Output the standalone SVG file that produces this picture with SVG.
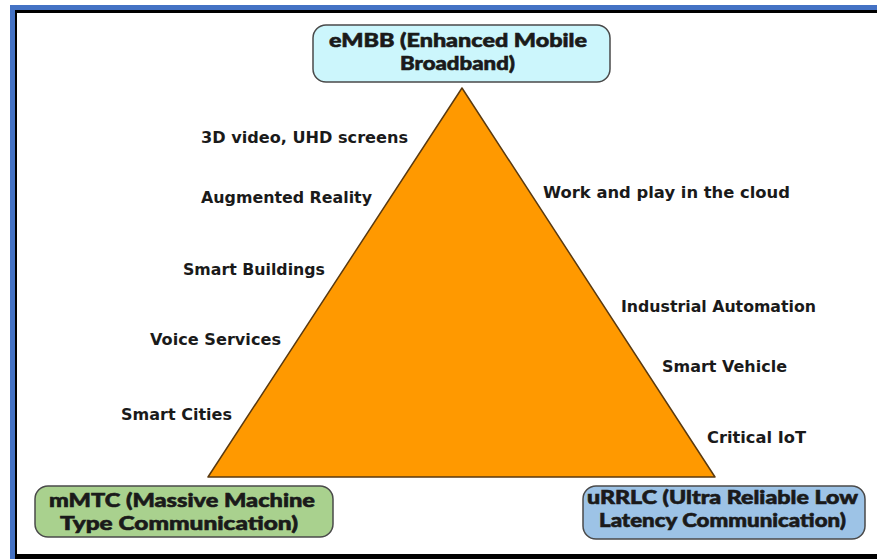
<svg xmlns="http://www.w3.org/2000/svg" width="877" height="559" viewBox="0 0 877 559">
<style>
.box{stroke:#4a4a4a;stroke-width:1.5}
.bt{font-family:Lato,"Open Sans","DejaVu Sans",sans-serif;font-weight:900;font-size:19px;fill:#1a1a1a;stroke:#1a1a1a;stroke-width:0.6;text-anchor:middle}
.lb{font-family:"DejaVu Sans","Liberation Sans",sans-serif;font-weight:bold;font-size:15px;fill:#1a1a1a}
</style>
<rect x="0" y="0" width="877" height="559" fill="#ffffff"/>
<g id="frame">
<rect x="10" y="5" width="867" height="5" fill="#4472c4"/>
<rect x="10" y="5" width="5" height="554" fill="#4472c4"/>
<rect x="15" y="10" width="862" height="3" fill="#000"/>
<rect x="15" y="10" width="2" height="549" fill="#000"/>
<rect x="15" y="554" width="862" height="5" fill="#000"/>
</g>
<g id="triangle">
<polygon points="462,88 208,477 715,477" fill="#ff9900" stroke="#5a3a10" stroke-width="1.5" stroke-linejoin="round"/>
</g>
<g id="embb">
<rect class="box" x="313" y="25" width="297" height="57" rx="13" fill="#ccf6fc"/>
<text class="bt" x="458" y="47" textLength="258" lengthAdjust="spacingAndGlyphs">eMBB (Enhanced Mobile</text>
<text class="bt" x="457.5" y="70" textLength="115" lengthAdjust="spacingAndGlyphs">Broadband)</text>
</g>
<g id="mmtc">
<rect class="box" x="35" y="486" width="298" height="51" rx="13" fill="#a9d18e"/>
<text class="bt" x="182" y="507" textLength="266" lengthAdjust="spacingAndGlyphs">mMTC (Massive Machine</text>
<text class="bt" x="179" y="530" textLength="238" lengthAdjust="spacingAndGlyphs">Type Communication)</text>
</g>
<g id="urrlc">
<rect class="box" x="583" y="486" width="282" height="53" rx="13" fill="#9dc3e6"/>
<text class="bt" x="722.5" y="504" textLength="271" lengthAdjust="spacingAndGlyphs">uRRLC (Ultra Reliable Low</text>
<text class="bt" x="722.5" y="527" textLength="247" lengthAdjust="spacingAndGlyphs">Latency Communication)</text>
</g>
<g id="labels">
<text class="lb" x="201" y="143" textLength="207" lengthAdjust="spacingAndGlyphs">3D video, UHD screens</text>
<text class="lb" x="201" y="203" textLength="171" lengthAdjust="spacingAndGlyphs">Augmented Reality</text>
<text class="lb" x="183" y="275" textLength="142" lengthAdjust="spacingAndGlyphs">Smart Buildings</text>
<text class="lb" x="150" y="345" textLength="131" lengthAdjust="spacingAndGlyphs">Voice Services</text>
<text class="lb" x="121" y="420" textLength="111" lengthAdjust="spacingAndGlyphs">Smart Cities</text>
<text class="lb" x="543" y="198" textLength="247" lengthAdjust="spacingAndGlyphs">Work and play in the cloud</text>
<text class="lb" x="621" y="312" textLength="195" lengthAdjust="spacingAndGlyphs">Industrial Automation</text>
<text class="lb" x="662" y="372" textLength="125" lengthAdjust="spacingAndGlyphs">Smart Vehicle</text>
<text class="lb" x="707" y="443" textLength="99" lengthAdjust="spacingAndGlyphs">Critical IoT</text>
</g>
</svg>
